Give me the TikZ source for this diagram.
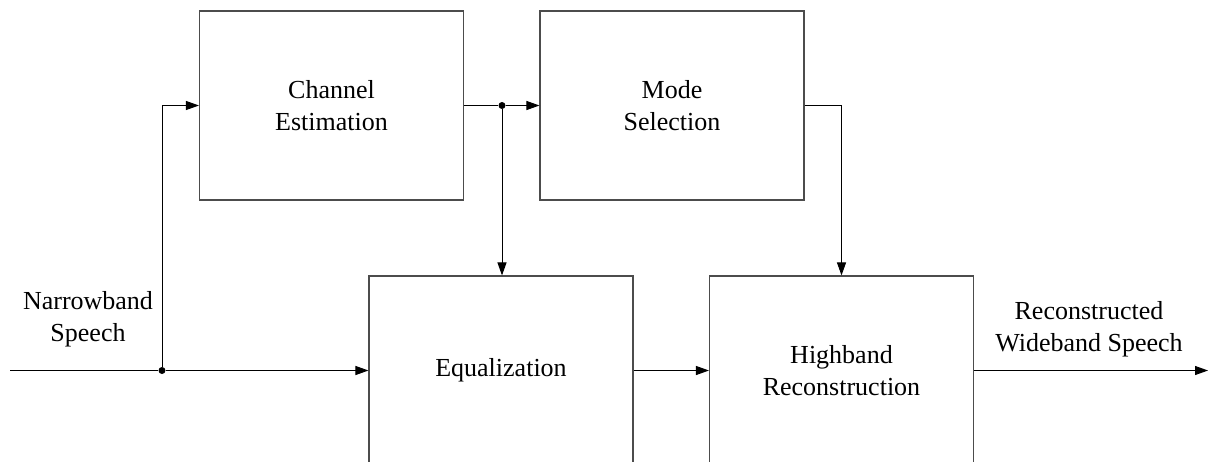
\documentclass[tikz,border=0pt]{standalone}
\usepackage{fontspec}
\setmainfont{Liberation Serif}
\usetikzlibrary{arrows.meta}
\begin{document}
\begin{tikzpicture}[x=1pt,y=-1pt,
  block/.style={draw=black!70, line width=1.1pt, minimum width=264pt, minimum height=189pt,
    inner sep=0pt, align=center, font=\fontsize{26}{32}\selectfont},
  lbl/.style={align=center, font=\fontsize{26}{32}\selectfont, inner sep=0pt},
  flow/.style={draw=black, line width=1pt, -{Triangle[length=13pt,width=9pt]}},
  wire/.style={draw=black, line width=1pt},
  junction/.style={circle, fill=black, inner sep=0pt, minimum size=7pt}]
  \useasboundingbox (0,0) rectangle (1209,461);
  \clip (0,0) rectangle (1209,461);

  % processing blocks
  \node[block] (chan) at (331.5,105.5) {Channel\\Estimation};
  \node[block] (mode) at (672,105.5) {Mode\\Selection};
  \node[block] (equal) at (501,370.5) {Equalization};
  \node[block] (high) at (841.5,370.5) {Highband\\Reconstruction};

  % input / output labels
  \node[lbl] (inlbl) at (88,319) {Narrowband\\Speech};
  \node[lbl] (outlbl) at (1089,329) {Reconstructed\\Wideband Speech};

  % junctions and free ends
  \coordinate (in) at (10,370.5);
  \node[junction] (split) at (162,370.5) {};
  \node[junction] (tap) at (502,105.5) {};
  \coordinate (out) at (1208,370.5);

  % connectors
  \draw[wire] (in) -- (split);
  \draw[flow] (split) -- (equal.west);
  \draw[flow] (split) |- (chan.west);
  \draw[wire] (chan.east) -- (tap);
  \draw[flow] (tap) -- (mode.west);
  \draw[flow] (tap) -- (tap |- equal.north);
  \draw[flow] (mode.east) -| (high.north);
  \draw[flow] (equal.east) -- (high.west);
  \draw[flow] (high.east) -- (out);
\end{tikzpicture}
\end{document}
